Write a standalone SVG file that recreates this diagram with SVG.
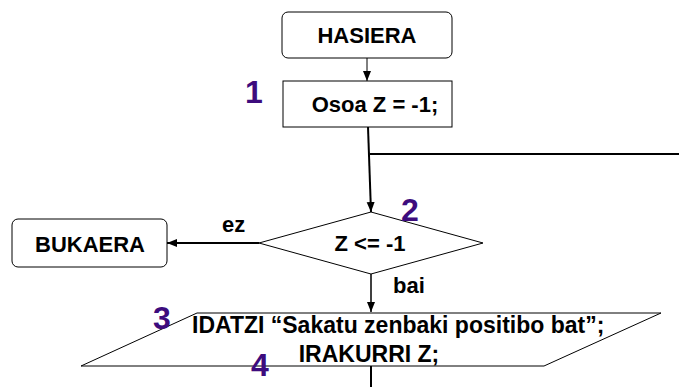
<svg xmlns="http://www.w3.org/2000/svg" width="679" height="387" viewBox="0 0 679 387">
<style>
.box{fill:#fff;stroke:#000;stroke-width:1}
.t{font-family:"Liberation Sans",Arial,sans-serif;font-weight:bold;font-size:22px;fill:#000}
.n{font-family:"Liberation Sans",Arial,sans-serif;font-weight:bold;font-size:32px;fill:#3D0C7D}
.c{fill:none;stroke:#000}
</style>
<defs>
<marker id="ah" markerUnits="userSpaceOnUse" markerWidth="10" markerHeight="10" viewBox="0 0 10 10" refX="10" refY="5" orient="auto">
<path d="M0,1 L10,5 L0,9 Z" fill="#000"/>
</marker>
</defs>
<g id="connectors">
<line class="c" x1="367" y1="58" x2="367" y2="81" stroke-width="1" marker-end="url(#ah)"/>
<line class="c" x1="368" y1="127" x2="371" y2="212" stroke-width="2" marker-end="url(#ah)"/>
<line class="c" x1="370" y1="154" x2="679" y2="154" stroke-width="2"/>
<line class="c" x1="259" y1="243" x2="167" y2="243" stroke-width="2" marker-end="url(#ah)"/>
<line class="c" x1="371" y1="274" x2="371" y2="312" stroke-width="1.5" marker-end="url(#ah)"/>
<line class="c" x1="371" y1="366" x2="371" y2="387" stroke-width="2"/>
<text class="t" x="222" y="232">ez</text>
<text class="t" x="393" y="293">bai</text>
</g>
<g id="hasiera">
<rect class="box" x="282" y="12" width="170" height="46" rx="6"/>
<text class="t" x="367" y="43" text-anchor="middle">HASIERA</text>
</g>
<g id="osoa">
<rect class="box" x="283" y="81" width="169" height="46"/>
<text class="t" x="375" y="112" text-anchor="middle">Osoa Z = -1;</text>
<text class="n" x="245" y="103">1</text>
</g>
<g id="baldintza">
<polygon class="box" points="371,212 483,243 371,274 259,243"/>
<text class="t" x="370" y="251" text-anchor="middle">Z &lt;= -1</text>
<text class="n" x="401" y="221">2</text>
</g>
<g id="bukaera">
<rect class="box" x="12" y="219" width="155" height="48" rx="6"/>
<text class="t" x="90" y="252" text-anchor="middle">BUKAERA</text>
</g>
<g id="idatzi">
<polygon class="box" points="197,313 661,313 544,366 81,366"/>
<text class="t" x="192" y="333" style="font-size:23px">IDATZI “Sakatu zenbaki positibo bat”;</text>
<text class="t" x="369" y="362" text-anchor="middle" style="font-size:23px">IRAKURRI Z;</text>
<text class="n" x="153" y="329">3</text>
<text class="n" x="251" y="376">4</text>
</g>
</svg>
